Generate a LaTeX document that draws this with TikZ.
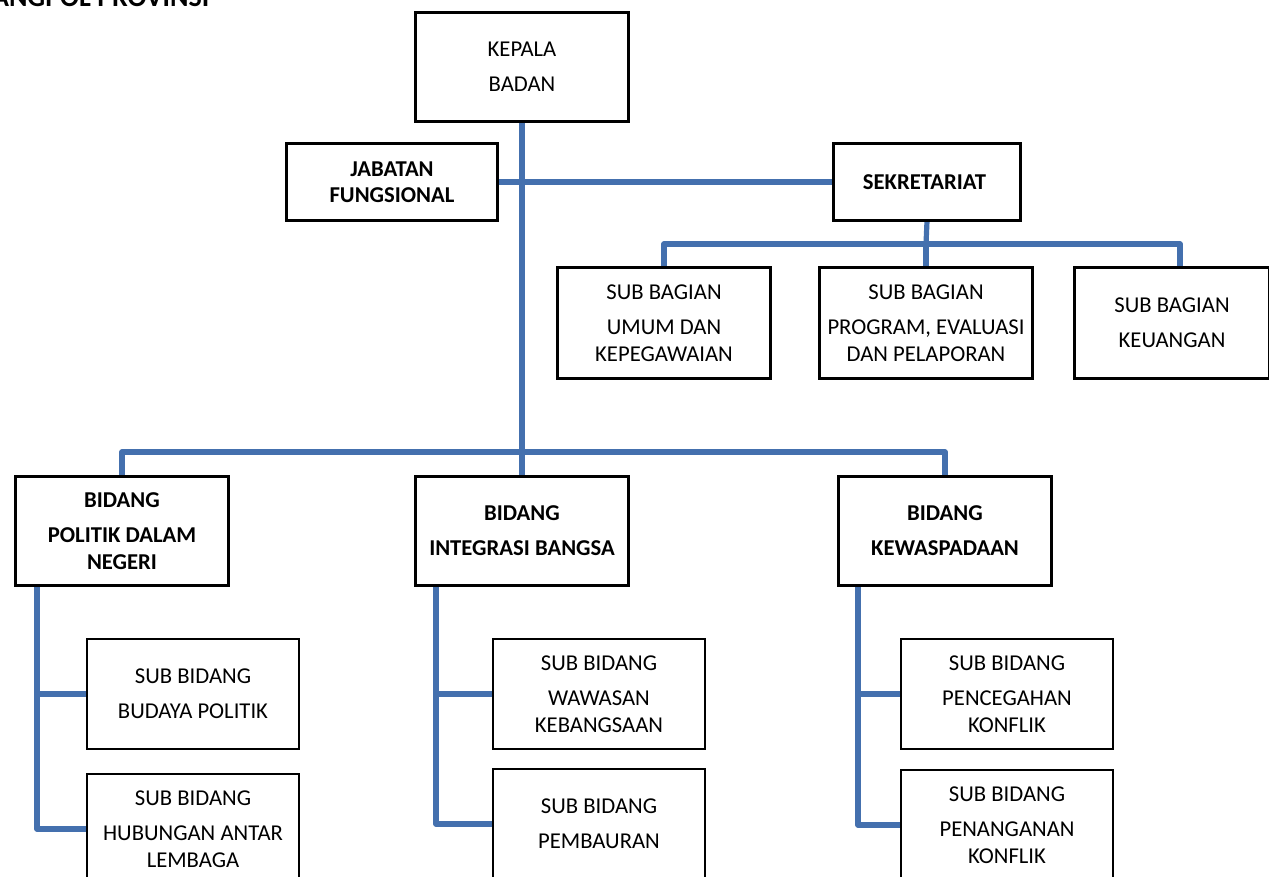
\documentclass[tikz,border=0pt]{standalone}
\usepackage{fontspec}
\setmainfont{Carlito}
\usepackage{tikz}
\usetikzlibrary{positioning, calc}
\definecolor{linkblue}{HTML}{4470AE}

\begin{document}
\begin{tikzpicture}[x=0.75pt, y=-0.75pt,
    unit/.style={rectangle,
      draw,
      line width=1.5pt,
      fill=white,
      inner sep=0pt,
      align=center,
      font=\fontsize{17}{20.25}\selectfont,
      minimum width=159pt,
      minimum height=#1},
    unit/.default=81pt,
    link/.style={linkblue, line width=3.9pt, line join=round}]
  \useasboundingbox (0,0) rectangle (1269,876);

% TITLE (cut at top)

  \node [anchor=base east, font=\fontsize{21}{24}\selectfont\bfseries] (judul)
    at (214,6) {BAKESBANGPOL PROVINSI};

% UNITS

  \node [unit, anchor=north west] (kepala) at (415,12) {
    KEPALA\\[6pt]
    BADAN
  };

  \node [unit=57pt, minimum width=157.5pt, anchor=north west,
    font=\fontsize{17}{19.5}\selectfont\bfseries] (jabatan) at (286,143) {
    JABATAN\\
    FUNGSIONAL
  };

  \node [unit=57pt, minimum width=139.5pt, anchor=north west,
    font=\fontsize{17}{20.25}\selectfont\bfseries] (sekretariat) at (833,143) {
    SEKRETARIAT
  };

  \node [unit=82.5pt, anchor=north west] (umum) at (557,267) {
    SUB BAGIAN\\[6pt]
    UMUM DAN\\
    KEPEGAWAIAN
  };

  \node [unit=82.5pt, anchor=north west] (program) at (819,267) {
    SUB BAGIAN\\[6pt]
    PROGRAM, EVALUASI\\
    DAN PELAPORAN
  };

  \node [unit=82.5pt, minimum width=145.5pt, anchor=north west] (keuangan) at (1074,267) {
    SUB BAGIAN\\[6pt]
    KEUANGAN
  };

  \node [unit, anchor=north west,
    font=\fontsize{17}{20.25}\selectfont\bfseries] (politik) at (15,476) {
    BIDANG\\[6pt]
    POLITIK DALAM\\
    NEGERI
  };

  \node [unit, anchor=north west,
    font=\fontsize{17}{20.25}\selectfont\bfseries] (integrasi) at (415,476) {
    BIDANG\\[6pt]
    INTEGRASI BANGSA
  };

  \node [unit, anchor=north west,
    font=\fontsize{17}{20.25}\selectfont\bfseries] (kewaspadaan) at (838,476) {
    BIDANG\\[6pt]
    KEWASPADAAN
  };

  % SUB BIDANG

  \node [unit=82.5pt, anchor=north west] (budaya) at (86,638) {
    SUB BIDANG\\[6pt]
    BUDAYA POLITIK
  };

  \node [unit=82.5pt, anchor=north west] (hubungan) at (86,773) {
    SUB BIDANG\\[6pt]
    HUBUNGAN ANTAR\\
    LEMBAGA
  };

  \node [unit=82.5pt, anchor=north west] (wawasan) at (492,638) {
    SUB BIDANG\\[6pt]
    WAWASAN\\
    KEBANGSAAN
  };

  \node [unit=82.5pt, anchor=north west] (pembauran) at (492,768) {
    SUB BIDANG\\[6pt]
    PEMBAURAN
  };

  \node [unit=82.5pt, anchor=north west] (pencegahan) at (900,638) {
    SUB BIDANG\\[6pt]
    PENCEGAHAN\\
    KONFLIK
  };

  \node [unit=82.5pt, anchor=north west] (penanganan) at (900,769) {
    SUB BIDANG\\[6pt]
    PENANGANAN\\
    KONFLIK
  };

% CONNECTIONS

  \coordinate (sbus) at (926,244);
  \coordinate (bbus) at (520,452);

  \draw [link] (kepala.south) -- (integrasi.north);
  \draw [link] (jabatan.east) -- (sekretariat.west);
  \draw [link] (sekretariat.south) -- (sbus);
  \draw [link] (umum.north) |- (sbus) -| ($(keuangan.north)+(8,0)$);
  \draw [link] (sbus) -- (program.north);
  \draw [link] (politik.north) |- (bbus) -| (kewaspadaan.north);

  \draw [link] ($(politik.south west)+(22,0)$) |- (budaya.west);
  \draw [link] ($(politik.south west)+(22,0)$) |- (hubungan.west);
  \draw [link] ($(integrasi.south west)+(21,0)$) |- (wawasan.west);
  \draw [link] ($(integrasi.south west)+(21,0)$) |- (pembauran.west);
  \draw [link] ($(kewaspadaan.south west)+(20,0)$) |- (pencegahan.west);
  \draw [link] ($(kewaspadaan.south west)+(20,0)$) |- (penanganan.west);

  % redraw boxes above the bus lines
  \foreach \n in {kepala, jabatan, sekretariat, umum, program, keuangan,
    politik, integrasi, kewaspadaan}
    \draw [line width=1.5pt] (\n.north west) rectangle (\n.south east);

\end{tikzpicture}
\end{document}
